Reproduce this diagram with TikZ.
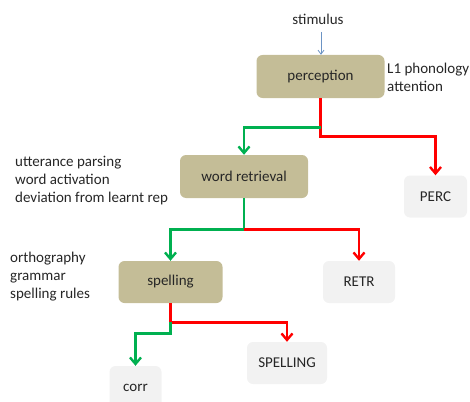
\documentclass[tikz,border=0pt]{standalone}
\usepackage{fontspec}
\setmainfont{Carlito}
\usetikzlibrary{arrows.meta,calc}
\definecolor{tanfill}{HTML}{C4BD97}
\definecolor{greyfill}{HTML}{F2F2F2}
\definecolor{gline}{HTML}{00B050}
\definecolor{rline}{HTML}{FF0000}
\definecolor{txt}{HTML}{262626}
\definecolor{stimblue}{HTML}{6C94C4}
\begin{document}
\begin{tikzpicture}[x=1pt,y=-1pt,
  every node/.style={font=\fontsize{15}{18}\selectfont, text=txt, inner sep=0pt},
  tanbox/.style={fill=tanfill, rounded corners=6pt, minimum height=43pt},
  greybox/.style={fill=greyfill, rounded corners=6pt, minimum height=42pt},
  note/.style={align=left, anchor=west},
  greenline/.style={draw=gline, line width=2.8pt, -{Straight Barb[length=6.5pt,width=11pt,line width=2.4pt]}},
  redline/.style={draw=rline, line width=2.8pt, -{Straight Barb[length=6.5pt,width=11pt,line width=2.4pt]}},
  stimline/.style={draw=stimblue, line width=0.8pt, -{Straight Barb[length=4pt,width=6pt]}}
]
\useasboundingbox (0,0) rectangle (470,401);
\begin{scope}
\clip (0,0) rectangle (470,401);
% nodes
\node (stim) at (318,19) {stimulus};
\node[tanbox, minimum width=128pt] (perc) at (320.5,76.5) {perception};
\node[note] (percnote) at (387,77.5) {L1 phonology\\attention};
\node[greybox, minimum width=63pt] (PERC) at (435.5,196.5) {PERC};
\node[tanbox, minimum width=128pt] (wr) at (244,176.5) {word retrieval};
\node[note] (wrnote) at (15,181) {utterance parsing\\word activation\\deviation from learnt rep};
\node[tanbox, minimum width=104pt, minimum height=42pt] (sp) at (170.5,282) {spelling};
\node[note] (spnote) at (10,276.5) {orthography\\grammar\\spelling rules};
\node[greybox, minimum width=72pt] (RETR) at (359,282) {RETR};
\node[greybox, minimum width=80pt] (SPELL) at (287,363) {SPELLING};
\node[greybox, minimum width=52pt, minimum height=44pt] (corr) at (135.5,388) {corr};
% stimulus arrow
\coordinate (stimtop) at (321,32);
\draw[stimline] (stimtop) -- (perc.north -| stimtop);
% perception branches
\coordinate (pj) at ($(perc.south)+(0,29)$);
\draw[redline] (perc.south) -- ++(0,38) -| (PERC.north);
\draw[greenline] (pj) -| (wr.north);
% word retrieval branches
\coordinate (wj) at ($(wr.south)+(0,31)$);
\draw[greenline] (wr.south) -- (wj) -| (sp.north);
\draw[redline] (wj) -| (RETR.north);
% spelling branches
\coordinate (sj) at ($(sp.south)+(0,19)$);
\draw[redline] (sp.south) -- (sj) -| (SPELL.north);
\draw[greenline] (sj) -- ++(0,11) -| (corr.north);
\end{scope}
\end{tikzpicture}
\end{document}
